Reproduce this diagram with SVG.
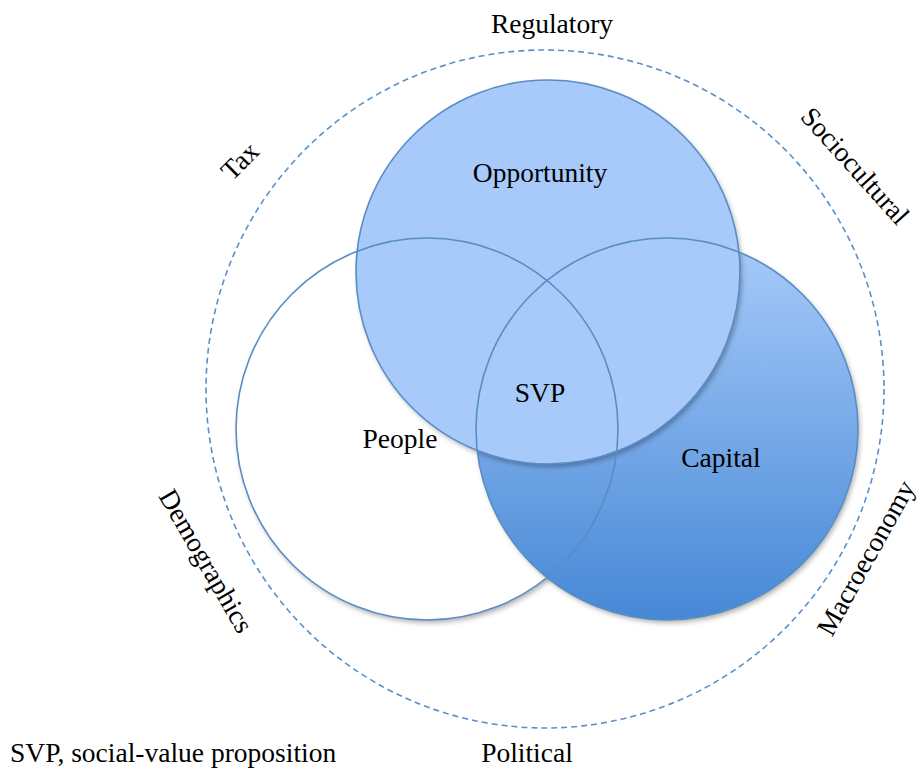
<svg xmlns="http://www.w3.org/2000/svg" width="922" height="768" viewBox="0 0 922 768">
<style>
text{font-family:"Liberation Serif","Times New Roman",serif;font-size:27.5px;fill:#000;}
.c{text-anchor:middle;}
.ring{fill:none;stroke:#5b8fcc;stroke-width:1.6;stroke-dasharray:6 4;}
.edge{fill:none;stroke:#5a8cc4;stroke-width:1.6;}
</style>
<defs>
<linearGradient id="capGrad" x1="0" y1="0" x2="0" y2="1">
<stop offset="0" stop-color="#a8cbfa"/>
<stop offset="1" stop-color="#4688d6"/>
</linearGradient>
<filter id="sh" x="-10%" y="-10%" width="125%" height="125%">
<feDropShadow dx="2" dy="3" stdDeviation="2.5" flood-color="#000" flood-opacity="0.3"/>
</filter>
</defs>
<g id="outer-ring">
<circle class="ring" cx="545" cy="389" r="339"/>
</g>
<g id="people">
<circle cx="427" cy="429" r="191" fill="#fff" filter="url(#sh)"/>
</g>
<g id="capital">
<circle cx="667" cy="429" r="191" fill="url(#capGrad)" filter="url(#sh)"/>
</g>
<g id="opportunity">
<circle cx="548" cy="272" r="192" fill="#a8cafb" filter="url(#sh)"/>
</g>
<g id="outlines">
<circle class="edge" cx="427" cy="429" r="191"/>
<circle class="edge" cx="667" cy="429" r="191"/>
<circle class="edge" cx="548" cy="272" r="192"/>
</g>
<g id="labels">
<text class="c" x="540" y="182">Opportunity</text>
<text class="c" x="540" y="402">SVP</text>
<text class="c" x="400" y="448">People</text>
<text class="c" x="721" y="467">Capital</text>
</g>
<g id="factors">
<text class="c" x="552" y="33">Regulatory</text>
<text class="c" x="527" y="762">Political</text>
<text class="c" transform="translate(240,161) rotate(-45)" y="9">Tax</text>
<text class="c" transform="translate(855,166) rotate(48)" y="9">Sociocultural</text>
<text class="c" transform="translate(206,561) rotate(60)" y="9">Demographics</text>
<text class="c" transform="translate(866,558) rotate(-61)" y="9">Macroeconomy</text>
</g>
<g id="legend">
<text x="10" y="762">SVP, social-value proposition</text>
</g>
</svg>
